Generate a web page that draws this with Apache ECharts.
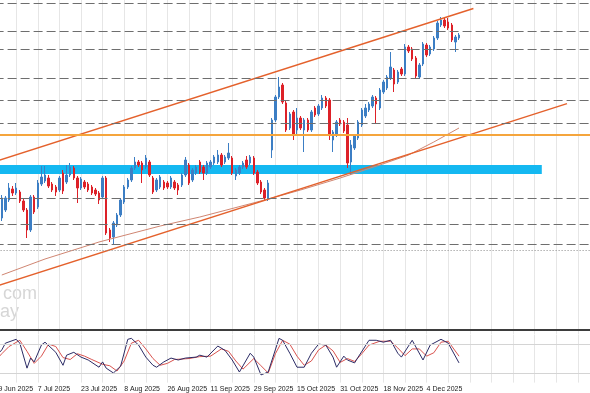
<!DOCTYPE html>
<html><head><meta charset="utf-8">
<script src="https://cdn.jsdelivr.net/npm/echarts@6/dist/echarts.min.js"></script>
<style>html,body{margin:0;padding:0;background:#fff}#c{width:590px;height:393px}</style>
</head><body><div id="c"></div>
<script>
// ---- data ----
const firstDate = [2025, 5, 19];          // first category (19 Jun 2025)
const categoryCount = 167;
const barOffset = 2;                      // first candle = 23 Jun 2025
const tickLabels = ['19 Jun 2025','7 Jul 2025','23 Jul 2025','8 Aug 2025','26 Aug 2025','11 Sep 2025','29 Sep 2025','15 Oct 2025','31 Oct 2025','18 Nov 2025','4 Dec 2025'];

const openV = [112,120,130,141,137,138,129,120,100,133,
123,146,149,152,146,143,140,157,148,155,
162,152,142,148,146,143,140,137,133,152,
100,93,105,115,128,143,150,162,168,167,
163,168,152,140,143,148,147,143,148,145,
145,155,165,150,157,168,163,157,163,167,
168,175,168,172,172,154,157,163,170,167,
172,158,148,140,132,180,210,233,245,227,
202,218,200,212,200,210,200,222,216,222,
232,230,190,195,210,208,205,168,182,192,
205,214,220,224,232,222,238,242,252,260,
248,261,256,283,281,272,253,266,285,276,
281,292,305,310,308,305,288,292];
const closeV = [132,132,142,137,142,129,120,100,133,118,
147,153,155,144,140,138,152,139,155,163,
152,142,151,143,140,137,136,130,152,97,
92,107,115,130,143,150,162,168,165,160,
172,155,138,150,153,142,143,152,142,140,
155,170,147,160,163,158,157,167,168,173,
175,165,173,177,157,160,163,167,163,173,
157,147,138,132,147,210,233,243,228,200,
216,195,212,202,210,200,218,215,224,232,
224,195,198,208,206,199,167,185,194,208,
220,222,226,233,226,240,248,253,263,246,
258,256,283,279,271,254,265,286,275,283,
292,307,310,304,302,290,293,295];
const lowV = [109,118,128,134,135,127,118,92,98,116,
121,144,147,142,138,134,138,136,146,153,
150,127,140,141,138,135,134,126,131,95,
88,86,103,113,126,141,148,160,163,147,
161,153,136,138,141,140,141,141,140,135,
143,153,145,148,155,156,150,155,161,165,
166,163,166,170,155,150,155,161,161,165,
155,145,136,129,129,172,208,231,226,198,
200,190,196,200,178,198,198,213,214,220,
222,190,178,193,204,197,162,155,180,190,
203,212,218,222,207,220,236,240,250,238,
246,254,254,277,269,252,251,264,273,274,
279,290,303,302,300,288,278,290];
const highV = [135,134,147,144,147,140,131,122,135,135,
150,164,164,155,148,145,154,160,165,167,
164,154,153,150,148,145,142,139,154,154,
102,109,117,132,145,152,164,173,170,169,
175,170,154,152,155,150,149,154,150,147,
157,173,167,162,165,170,165,169,170,175,
180,177,175,187,174,162,165,169,174,175,
174,160,150,142,150,212,235,253,247,229,
218,220,222,214,212,212,220,224,226,235,
234,232,200,210,212,210,212,190,196,210,
222,226,228,235,234,242,250,255,278,262,
260,263,286,285,283,274,267,288,287,285,
294,309,313,312,312,307,295,297];

// moving average read at a few bars: [bar, value]
const maPoints = [[0,55],[12,71],[27,88],[44,104],[55,113],[73,130],[83,140],[94,152],[105,165],[113,175],[120,188],[127,202]];
// channel trendlines: [bar, value]
const upperChannel = [[-1,169.4],[131,321.5]];
const lowerChannel = [[-1,44.4],[157,226.4]];
// horizontal levels
const dashedLevels = [327,299,281,252,230,207,132,106,86];
const dottedLevels = [80];
const orangeLevels = [195.5];
const bandLevels = [156,165];
const bandBars = [-2,150];

// stochastic oscillator: [bar, value]
const stochMain = [[-1,60],[0,68],[1,82],[4,90],[5,82],[7,30],[8,51],[9,43],[11,78],[12,84],[15,63],[17,36],[18,57],[20,63],[22,53],[24,47],[27,32],[28,43],[29,30],[31,20],[33,34],[35,90],[36,92],[38,78],[40,53],[42,36],[43,32],[45,43],[47,51],[49,47],[51,51],[54,53],[55,57],[57,53],[60,76],[62,67],[64,47],[66,22],[69,61],[70,53],[72,16],[74,22],[77,92],[78,88],[80,61],[82,32],[84,32],[86,61],[88,80],[90,78],[92,53],[93,32],[95,55],[96,47],[98,41],[99,53],[102,88],[104,88],[106,84],[108,88],[110,61],[111,53],[114,88],[117,47],[119,78],[122,90],[124,82],[127,41]];
const stochSignal = [[-1,52],[0,60],[2,75],[5,88],[7,65],[9,40],[11,55],[13,80],[15,75],[17,52],[19,48],[21,60],[23,55],[25,48],[28,38],[30,35],[32,24],[34,45],[36,82],[38,88],[40,70],[42,50],[44,36],[46,40],[48,48],[52,50],[55,54],[58,55],[61,70],[63,65],[65,45],[67,28],[70,50],[72,35],[74,20],[76,60],[78,88],[80,80],[82,55],[84,36],[86,45],[88,68],[90,78],[92,66],[94,42],[96,50],[98,44],[100,60],[102,78],[105,86],[108,86],[110,72],[112,56],[114,70],[116,70],[118,55],[120,62],[122,84],[124,86],[127,55]];
const stochLevels = [20,80];

// ---- build ----
const months = ['Jan','Feb','Mar','Apr','May','Jun','Jul','Aug','Sep','Oct','Nov','Dec'];
const categories = [];
let d = new Date(Date.UTC(firstDate[0], firstDate[1], firstDate[2]));
while (categories.length < categoryCount) {
  const wd = d.getUTCDay();
  if (wd !== 0 && wd !== 6) categories.push(d.getUTCDate() + ' ' + months[d.getUTCMonth()] + ' ' + d.getUTCFullYear());
  d = new Date(d.getTime() + 86400000);
}
const lastCat = barOffset + openV.length - 1;
const candleData = openV.map((o, i) => [i + barOffset, o, closeV[i], lowV[i], highV[i]]);
const shift = arr => arr.map(p => [p[0] + barOffset, p[1]]);

const left = -5.4, width = 3.6 * (categoryCount - 1);
const chart = echarts.init(document.getElementById('c'), null, {renderer: 'canvas'});
const lineMark = (v, style) => ({yAxis: v, lineStyle: style});
chart.setOption({
  animation: false,
  backgroundColor: '#ffffff',
  grid: [
    {left: left, top: 0, width: width, height: 334, outerBoundsMode: 'none', containLabel: false},
    {left: left, top: 334.5, width: width, height: 48.1, outerBoundsMode: 'none', containLabel: false}
  ],
  xAxis: [
    {type: 'category', gridIndex: 0, data: categories, boundaryGap: false,
     axisLine: {show: true, lineStyle: {color: '#3d3d3d', width: 2}},
     axisTick: {show: false}, axisLabel: {show: false},
     splitLine: {show: true, interval: (i) => i % 6 === 0, lineStyle: {color: '#e6e6e6', width: 1}}},
    {type: 'category', gridIndex: 1, data: categories, boundaryGap: false,
     axisLine: {show: false}, axisTick: {show: false},
     axisLabel: {show: true, interval: (i, v) => i <= lastCat && tickLabels.indexOf(v) >= 0,
       align: 'left', margin: 3, fontSize: 7, fontFamily: 'Liberation Sans', color: '#222'},
     splitLine: {show: true, interval: (i) => i % 6 === 0, lineStyle: {color: '#e6e6e6', width: 1}}}
  ],
  yAxis: [
    {type: 'value', gridIndex: 0, min: -4, max: 330, show: false},
    {type: 'value', gridIndex: 1, min: 0, max: 100, show: false}
  ],
  graphic: [
    {type: 'text', left: 3, top: 285, silent: true, style: {text: 'com', font: '18px "Liberation Sans"', fill: '#d6d6d6'}},
    {type: 'text', left: 0, top: 303, silent: true, style: {text: 'ay', font: '18px "Liberation Sans"', fill: '#d6d6d6'}}
  ],
  series: [
    {type: 'line', xAxisIndex: 0, yAxisIndex: 0, data: [], z: 1,
     markArea: {silent: true, itemStyle: {color: '#14b8f1'},
       data: [[{xAxis: bandBars[0] + barOffset, yAxis: bandLevels[1]}, {xAxis: bandBars[1] + barOffset, yAxis: bandLevels[0]}]]},
     markLine: {silent: true, symbol: ['none', 'none'], label: {show: false},
       data: [
         ...dashedLevels.map(v => lineMark(v, {color: '#6e6e6e', width: 1, type: [9, 4]})),
         ...dottedLevels.map(v => lineMark(v, {color: '#8a8a8a', width: 1, type: [1, 2]})),
         ...orangeLevels.map(v => lineMark(v, {color: '#f5a53c', width: 2, type: 'solid'}))
       ]}},
    {type: 'candlestick', xAxisIndex: 0, yAxisIndex: 0, z: 3, barWidth: 2,
     encode: {x: 0, y: [1, 2, 3, 4]}, data: candleData,
     itemStyle: {color: '#3c7ec4', color0: '#dd2128', borderColor: '#3c7ec4', borderColor0: '#dd2128', borderWidth: 1}},
    {type: 'line', xAxisIndex: 0, yAxisIndex: 0, z: 4, data: shift(maPoints), showSymbol: false,
     lineStyle: {color: '#d08672', width: 1}},
    {type: 'line', xAxisIndex: 0, yAxisIndex: 0, z: 4, data: shift(upperChannel), showSymbol: false,
     lineStyle: {color: '#e4612c', width: 1.5}},
    {type: 'line', xAxisIndex: 0, yAxisIndex: 0, z: 4, data: shift(lowerChannel), showSymbol: false,
     lineStyle: {color: '#e4612c', width: 1.5}},
    {type: 'line', xAxisIndex: 1, yAxisIndex: 1, z: 3, data: shift(stochSignal), showSymbol: false,
     lineStyle: {color: '#d9534f', width: 1},
     markLine: {silent: true, symbol: ['none', 'none'], label: {show: false},
       data: stochLevels.map(v => lineMark(v, {color: '#d4d4d4', width: 1, type: 'solid'}))}},
    {type: 'line', xAxisIndex: 1, yAxisIndex: 1, z: 4, data: shift(stochMain), showSymbol: false,
     lineStyle: {color: '#2c2c66', width: 1}}
  ]
});
</script></body></html>
